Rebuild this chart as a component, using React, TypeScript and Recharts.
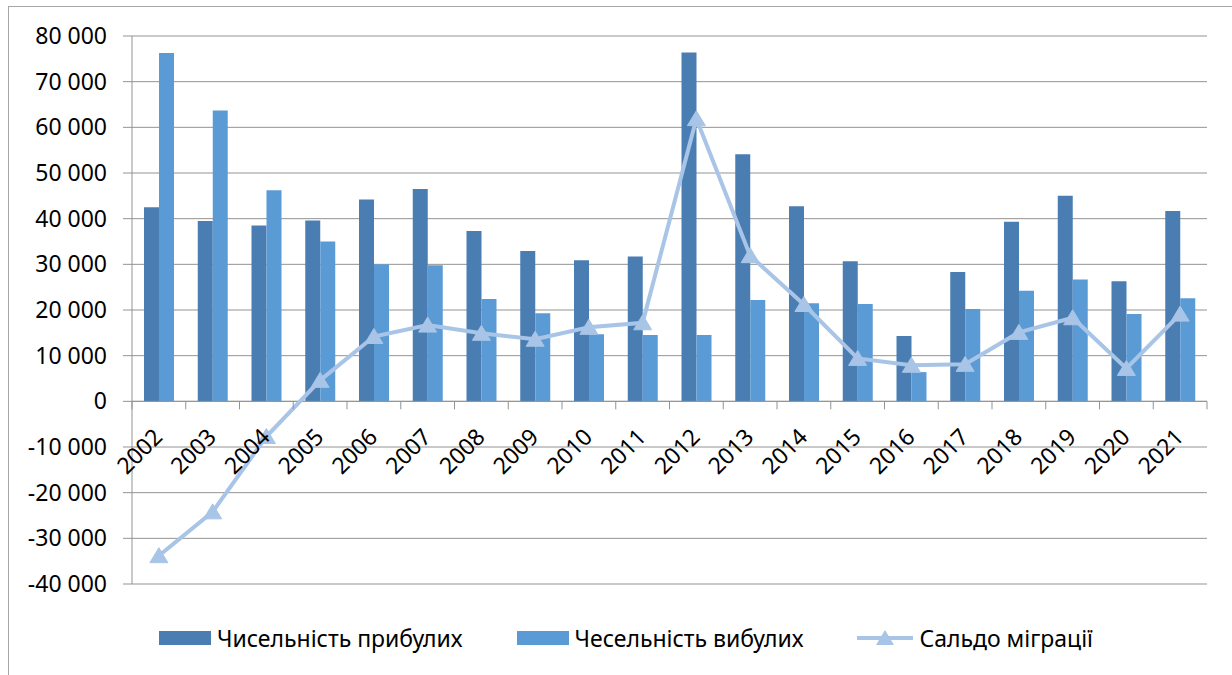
import React from 'react';
import {
  ComposedChart,
  Bar,
  Line,
  XAxis,
  YAxis,
  CartesianGrid,
  ReferenceLine,
  Legend,
} from 'recharts';

const YEARS = [
  '2002', '2003', '2004', '2005', '2006', '2007', '2008', '2009', '2010', '2011',
  '2012', '2013', '2014', '2015', '2016', '2017', '2018', '2019', '2020', '2021',
];

// Чисельність прибулих
const ARRIVED = [
  42500, 39500, 38500, 39600, 44200, 46500, 37300, 32900, 30900, 31700,
  76400, 54100, 42700, 30700, 14300, 28300, 39300, 45000, 26300, 41700,
];

// Чесельність вибулих
const DEPARTED = [
  76300, 63700, 46200, 35000, 30000, 29800, 22400, 19300, 14700, 14500,
  14500, 22200, 21500, 21300, 6400, 20200, 24200, 26700, 19100, 22600,
];

// Сальдо міграції
const BALANCE = [
  -33800, -24200, -7700, 4600, 14200, 16700, 14900, 13600, 16200, 17200,
  61900, 31900, 21200, 9400, 7900, 8100, 15100, 18300, 7200, 19100,
];

const Y_TICKS = [-40000, -30000, -20000, -10000, 0, 10000, 20000, 30000, 40000, 50000, 60000, 70000, 80000];

const SERIES = [
  { key: 'arrived', name: 'Чисельність прибулих', color: '#4a7eb3', kind: 'bar' },
  { key: 'departed', name: 'Чесельність вибулих', color: '#5b9bd5', kind: 'bar' },
  { key: 'balance', name: 'Сальдо міграції', color: '#a8c4e6', kind: 'line' },
];

const LINE = '#a8c4e6';
const GRID = '#939393';
const FONT = '"Noto Sans", sans-serif';
const FONT_SIZE = 23;

const WIDTH = 1232;
const HEIGHT = 675;
const X_AXIS_H = 91;
const MARGIN = { top: 36, right: 25, bottom: 0, left: 0 };
const Y_MIN = -40000;
const Y_MAX = 80000;
const PLOT_H = HEIGHT - MARGIN.top - MARGIN.bottom - X_AXIS_H;
const ZERO_Y = MARGIN.top + (PLOT_H * Y_MAX) / (Y_MAX - Y_MIN);

const data = YEARS.map((year, i) => ({
  year,
  arrived: ARRIVED[i],
  departed: DEPARTED[i],
  balance: BALANCE[i],
}));

const fmt = (v: number) => {
  if (v === 0) return '0';
  const sign = v < 0 ? '-' : '';
  return `${sign}${Math.abs(v) / 1000} 000`;
};

const YearTick = (props: any) => {
  const { x, payload, index } = props;
  const half = payload?.offset ?? 26.9;
  return (
    <g>
      <line x1={x - half} x2={x - half} y1={ZERO_Y} y2={ZERO_Y + 8} stroke={GRID} />
      {index === YEARS.length - 1 && (
        <line x1={x + half} x2={x + half} y1={ZERO_Y} y2={ZERO_Y + 8} stroke={GRID} />
      )}
      <text
        x={0}
        y={0}
        transform={`translate(${x + 5},${ZERO_Y + 37}) rotate(-45)`}
        textAnchor="end"
        fontSize={FONT_SIZE}
        fontFamily={FONT}
        fill="#000"
      >
        {payload.value}
      </text>
    </g>
  );
};

const Triangle = (props: any) => {
  const { cx, cy } = props;
  if (cx == null || cy == null) return null;
  return (
    <polygon
      points={`${cx},${cy - 8} ${cx - 9},${cy + 7} ${cx + 9},${cy + 7}`}
      fill={LINE}
      stroke={LINE}
    />
  );
};

// легенда в порядку серій, як у вихідному графіку
const LegendContent = () => (
  <div
    style={{
      display: 'flex',
      justifyContent: 'center',
      alignItems: 'center',
      gap: 54,
      paddingLeft: 20,
      fontFamily: FONT,
      fontSize: FONT_SIZE,
      color: '#000',
    }}
  >
    {SERIES.map((s) => (
      <div key={s.key} style={{ display: 'flex', alignItems: 'center', gap: 6 }}>
        {s.kind === 'line' ? (
          <svg width={56} height={18}>
            <line x1={0} x2={56} y1={9} y2={9} stroke={s.color} strokeWidth={4} />
            <polygon points="28,1 19,16 37,16" fill={s.color} />
          </svg>
        ) : (
          <div style={{ width: 52, height: 14, background: s.color }} />
        )}
        <span>{s.name}</span>
      </div>
    ))}
  </div>
);

export default function App() {
  return (
    <div style={{ position: 'absolute', left: 0, top: 0, width: WIDTH, height: HEIGHT, background: '#fff' }}>
      <div
        style={{
          position: 'absolute',
          left: 8,
          top: 6,
          width: WIDTH - 8,
          height: HEIGHT - 6,
          borderTop: '1px solid #a6a6a6',
          borderLeft: '1px solid #a6a6a6',
          boxSizing: 'border-box',
        }}
      />
      <ComposedChart
        width={WIDTH}
        height={HEIGHT}
        data={data}
        margin={MARGIN}
        barGap={0}
        style={{ position: 'absolute', left: 0, top: 0 }}
      >
        <CartesianGrid vertical={false} stroke={GRID} />
        <XAxis
          dataKey="year"
          axisLine={false}
          tickLine={false}
          interval={0}
          height={X_AXIS_H}
          tick={<YearTick />}
        />
        <YAxis
          domain={[Y_MIN, Y_MAX]}
          ticks={Y_TICKS}
          width={132}
          tickFormatter={fmt}
          axisLine={{ stroke: GRID }}
          tickLine={{ stroke: GRID }}
          tickSize={9}
          tickMargin={16}
          tick={{ fontSize: FONT_SIZE, fontFamily: FONT, fill: '#000' }}
          interval={0}
        />
        <ReferenceLine y={0} stroke={GRID} />
        <Bar dataKey="arrived" name={SERIES[0].name} fill={SERIES[0].color} barSize={15} isAnimationActive={false} />
        <Bar dataKey="departed" name={SERIES[1].name} fill={SERIES[1].color} barSize={15} isAnimationActive={false} />
        <Line
          dataKey="balance"
          name={SERIES[2].name}
          stroke={LINE}
          strokeWidth={4}
          dot={<Triangle />}
          activeDot={false}
          isAnimationActive={false}
        />
        <Legend
          layout="horizontal"
          verticalAlign="middle"
          align="center"
          wrapperStyle={{ left: 0, top: 622, width: WIDTH }}
          content={<LegendContent />}
        />
      </ComposedChart>
    </div>
  );
}
